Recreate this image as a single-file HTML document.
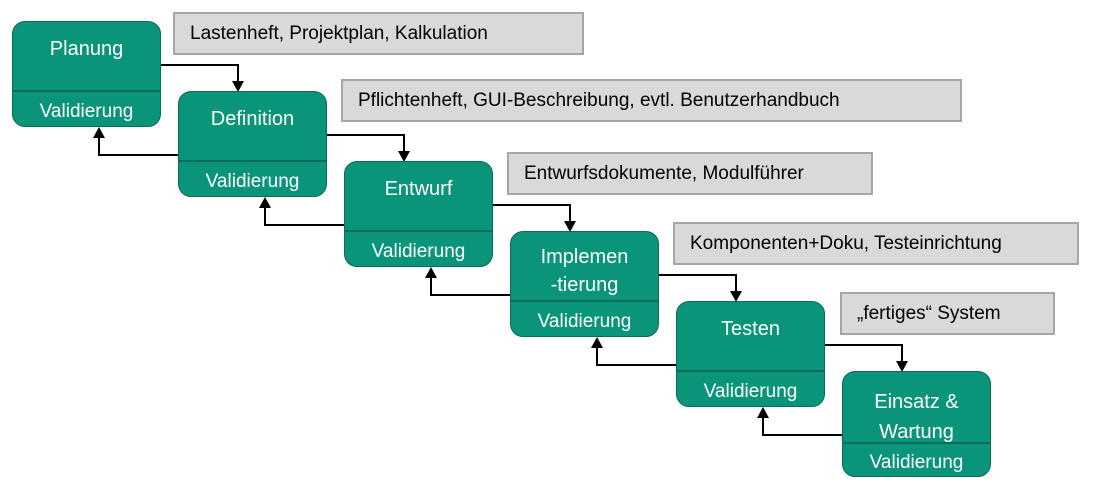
<!DOCTYPE html>
<html><head><meta charset="utf-8"><style>
body{margin:0;width:1104px;height:488px;background:#fff;position:relative;font-family:"Liberation Sans",Arial,sans-serif;overflow:hidden}
.b{position:absolute;width:149px;height:106px;background:#0a9479;border:1px solid #0b6b58;border-radius:13px;color:#fff;box-sizing:border-box}
.b .t{position:absolute;left:0;right:0;top:15px;text-align:center;font-size:20px;line-height:25px}
.b .d{position:absolute;left:0;right:0;top:68px;border-top:2px solid #0b6b58}
.b .v{position:absolute;left:0;right:0;top:79px;text-align:center;font-size:19px;line-height:22px}
.l{position:absolute;height:43px;background:#d9d9d9;border:2px solid #a6a6a6;box-sizing:border-box;font-size:19px;line-height:39px;padding-left:15px;color:#000}
</style></head><body>
<svg width="1104" height="488" style="position:absolute;left:0;top:0">
<g stroke="#000" stroke-width="2" fill="none">
<path d="M160,65 H238 V82"/><path d="M238,92 l-6,-11 h12z" fill="#000" stroke="none"/>
<path d="M326,135 H404 V152"/><path d="M404,162 l-6,-11 h12z" fill="#000" stroke="none"/>
<path d="M492,205 H570 V222"/><path d="M570,232 l-6,-11 h12z" fill="#000" stroke="none"/>
<path d="M658,275 H736 V292"/><path d="M736,302 l-6,-11 h12z" fill="#000" stroke="none"/>
<path d="M824,345 H902 V362"/><path d="M902,372 l-6,-11 h12z" fill="#000" stroke="none"/>
<path d="M178,155 H99 V138"/><path d="M99,127 l-6,11 h12z" fill="#000" stroke="none"/>
<path d="M344,225 H265 V208"/><path d="M265,197 l-6,11 h12z" fill="#000" stroke="none"/>
<path d="M510,295 H431 V278"/><path d="M431,267 l-6,11 h12z" fill="#000" stroke="none"/>
<path d="M676,365 H597 V348"/><path d="M597,337 l-6,11 h12z" fill="#000" stroke="none"/>
<path d="M842,435 H763 V418"/><path d="M763,407 l-6,11 h12z" fill="#000" stroke="none"/>
</g></svg>
<div class="b" style="left:12px;top:21px"><div class="t">Planung</div><div class="d"></div><div class="v">Validierung</div></div>
<div class="b" style="left:178px;top:91px"><div class="t">Definition</div><div class="d"></div><div class="v">Validierung</div></div>
<div class="b" style="left:344px;top:161px"><div class="t">Entwurf</div><div class="d"></div><div class="v">Validierung</div></div>
<div class="b" style="left:510px;top:231px"><div class="t" style="top:11px;line-height:28px">Implemen<br>-tierung</div><div class="d"></div><div class="v">Validierung</div></div>
<div class="b" style="left:676px;top:301px"><div class="t">Testen</div><div class="d"></div><div class="v">Validierung</div></div>
<div class="b" style="left:842px;top:371px"><div class="t" style="top:15px;line-height:30px">Einsatz &amp;<br>Wartung</div><div class="d" style="top:70px"></div><div class="v" style="top:80px">Validierung</div></div>
<div class="l" style="left:173px;top:12px;width:411px">Lastenheft, Projektplan, Kalkulation</div>
<div class="l" style="left:341px;top:79px;width:621px">Pflichtenheft, GUI-Beschreibung, evtl. Benutzerhandbuch</div>
<div class="l" style="left:507px;top:152px;width:366px">Entwurfsdokumente, Modulführer</div>
<div class="l" style="left:673px;top:222px;width:406px">Komponenten+Doku, Testeinrichtung</div>
<div class="l" style="left:840px;top:292px;width:215px">„fertiges“ System</div>
</body></html>
